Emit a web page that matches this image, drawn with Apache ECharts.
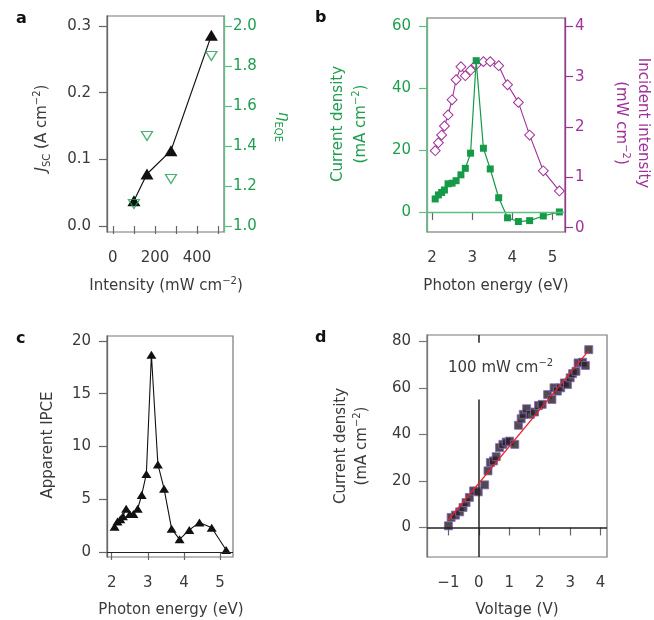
<!DOCTYPE html>
<html>
<head>
<meta charset="utf-8">
<script src="https://cdn.jsdelivr.net/npm/echarts@6/dist/echarts.min.js"></script>
<style>html,body{margin:0;padding:0;background:#fff;}#c{width:654px;height:620px;}</style>
</head>
<body>
<div id="c"></div>
<script>
// ---------- Panel a ----------
const intensityA = [100, 162, 276, 468];
const jscA = [0.038, 0.078, 0.113, 0.286];
const eqeA = [1.11, 1.45, 1.235, 1.85];
const aXTicks = [0, 100, 200, 300, 400, 500];
const aXLabels = [0, 200, 400];
const aYLeftTicks = [0, 0.1, 0.2, 0.3];
const aYRightTicks = [1.0, 1.2, 1.4, 1.6, 1.8, 2.0];

// ---------- Panel b / c (shared photon energies) ----------
const energy = [2.08, 2.16, 2.24, 2.31, 2.40, 2.50, 2.60, 2.72, 2.83, 2.96, 3.10, 3.28, 3.45, 3.66, 3.88, 4.15, 4.43, 4.77, 5.17];
const currentB = [4.2, 5.5, 6.3, 7.1, 9.1, 9.3, 10.1, 12.0, 14.1, 19.0, 48.9, 20.6, 13.9, 4.6, -1.9, -3.1, -2.8, -1.3, 0.0];
const incidentB = [1.53, 1.69, 1.84, 2.02, 2.24, 2.54, 2.94, 3.20, 3.02, 3.13, 3.24, 3.30, 3.30, 3.22, 2.84, 2.49, 1.84, 1.13, 0.73];
const ipceC = [2.4, 2.9, 3.1, 3.4, 4.1, 3.6, 3.6, 4.1, 5.4, 7.4, 18.7, 8.3, 6.0, 2.2, 1.2, 2.1, 2.8, 2.3, 0.2];
const energyTicks = [2, 3, 4, 5];
const bYLeftTicks = [0, 20, 40, 60];
const bYRightTicks = [0, 1, 2, 3, 4];
const cYTicks = [0, 5, 10, 15, 20];

// ---------- Panel d ----------
const voltageD = [-1.0, -0.91, -0.77, -0.63, -0.52, -0.42, -0.31, -0.17, -0.02, 0.19, 0.30, 0.38, 0.48, 0.57, 0.68, 0.79, 0.90, 1.01, 1.18, 1.30, 1.39, 1.46, 1.57, 1.69, 1.83, 1.96, 2.08, 2.26, 2.40, 2.47, 2.58, 2.69, 2.81, 2.91, 3.00, 3.08, 3.19, 3.26, 3.41, 3.50, 3.61];
const currentD = [0.7, 4.3, 5.3, 6.7, 8.6, 10.7, 12.9, 15.7, 15.3, 18.3, 24.3, 27.9, 28.6, 30.4, 34.3, 35.7, 36.7, 37.1, 35.7, 43.9, 46.7, 48.6, 51.0, 48.6, 49.6, 52.4, 52.9, 57.1, 55.0, 60.0, 58.6, 60.0, 62.1, 61.4, 64.3, 66.1, 67.1, 70.7, 71.0, 69.6, 76.4];
const fitV = [-1.0, 3.6];
const fitJ = [3.2, 75.9];
const dXTicks = [-1, 0, 1, 2, 3, 4];
const dYTicks = [0, 20, 40, 60, 80];
const dZeroLineBreak = [55, 79.4]; // vertical zero line interrupted by the label

const zip = (xs, ys) => xs.map((x, i) => [x, ys[i]]);

const FONT = 'DejaVu Sans';
const FS = 15;
const TXT = '#3a3a3a';
const GREEN = '#1f9e50';
const GREEN_AX = '#5fbf82';
const PURPLE = '#a0309a';
const FRAME = '#777';

function xAx(grid, min, max, ticks, labels, fmt) {
  return {
    type: 'value', gridIndex: grid, min: min, max: max,
    axisLine: {show: false},
    splitLine: {show: false},
    axisTick: {show: true, customValues: ticks, length: 8, lineStyle: {color: '#666', width: 1.2}},
    axisLabel: {customValues: labels, margin: 19, fontFamily: FONT, fontSize: FS, color: TXT, formatter: fmt}
  };
}
function yAx(grid, min, max, ticks, pos, color, lineColor, fmt, margin) {
  return {
    type: 'value', gridIndex: grid, min: min, max: max, position: pos,
    axisLine: {show: true, onZero: false, lineStyle: {color: lineColor, width: 1.3}},
    splitLine: {show: false},
    axisTick: {show: true, customValues: ticks, length: 8, lineStyle: {color: lineColor, width: 1.2}},
    axisLabel: {customValues: ticks, margin: margin, fontFamily: FONT, fontSize: FS, color: color, formatter: fmt}
  };
}

const f1 = v => v.toFixed(1);
const f0 = v => String(Math.round(v)).replace('-', '−');

const richBase = {
  n: {fontFamily: FONT, fontSize: FS, lineHeight: 20},
  i: {fontFamily: FONT, fontSize: FS, fontStyle: 'italic', lineHeight: 20},
  sup: {fontFamily: FONT, fontSize: 10, verticalAlign: 'top', lineHeight: 12},
  sub: {fontFamily: FONT, fontSize: 10, verticalAlign: 'bottom', lineHeight: 12}
};
function rt(x, y, text, color, rot, align) {
  const rich = {};
  Object.keys(richBase).forEach(k => { rich[k] = Object.assign({fill: color}, richBase[k]); });
  return {
    type: 'text', x: x, y: y, rotation: rot || 0,
    style: {text: text, rich: rich, fill: color, font: FS + 'px ' + FONT, align: align || 'center', verticalAlign: 'middle'}
  };
}
function letter(x, y, t) {
  return {type: 'text', x: x, y: y, style: {text: t, fill: '#111', font: 'bold 16px ' + FONT, align: 'left', verticalAlign: 'middle'}};
}

const chart = echarts.init(document.getElementById('c'), null, {renderer: 'canvas', width: 654, height: 620});
chart.setOption({
  animation: false,
  backgroundColor: '#fff',
  grid: [
    {left: 107, top: 16, width: 117, height: 216, show: true, borderColor: FRAME, borderWidth: 1.2, backgroundColor: 'transparent'},
    {left: 427, top: 18, width: 138, height: 214, show: true, borderColor: '#666', borderWidth: 1.2, backgroundColor: 'transparent'},
    {left: 107, top: 336, width: 126, height: 221, show: true, borderColor: FRAME, borderWidth: 1.2, backgroundColor: 'transparent'},
    {left: 427, top: 335, width: 180, height: 222, show: true, borderColor: FRAME, borderWidth: 1.2, backgroundColor: 'transparent'}
  ],
  xAxis: [
    xAx(0, -28, 528, aXTicks, aXLabels),
    xAx(1, 1.876, 5.31, energyTicks, energyTicks),
    xAx(2, 1.87, 5.36, energyTicks, energyTicks),
    xAx(3, -1.703, 4.21, dXTicks, dXTicks, f0)
  ],
  yAxis: [
    yAx(0, -0.009, 0.315, aYLeftTicks, 'left', TXT, '#666', f1, 16),
    yAx(0, 0.97, 2.05, aYRightTicks, 'right', GREEN, GREEN_AX, f1, 9),
    yAx(1, -6.48, 62.7, bYLeftTicks, 'left', GREEN, GREEN_AX, f0, 16),
    yAx(1, -0.086, 4.167, bYRightTicks, 'right', PURPLE, PURPLE, f0, 10),
    yAx(2, -0.47, 20.47, cYTicks, 'left', TXT, '#666', f0, 16),
    yAx(3, -12.7, 82.7, dYTicks, 'left', TXT, '#777', f0, 16)
  ],
  series: [
    // a
    {type: 'line', xAxisIndex: 0, yAxisIndex: 0, data: zip(intensityA, jscA), symbol: 'triangle', symbolSize: [13, 11],
     itemStyle: {color: '#111'}, lineStyle: {color: '#111', width: 1.2}, z: 3},
    {type: 'scatter', xAxisIndex: 0, yAxisIndex: 1, data: zip(intensityA, eqeA), symbol: 'triangle', symbolRotate: 180, symbolSize: [11, 9],
     itemStyle: {color: 'rgba(0,0,0,0)', borderColor: GREEN, borderWidth: 1.3}, z: 4},
    // b
    {type: 'line', xAxisIndex: 1, yAxisIndex: 3, data: zip(energy, incidentB), symbol: 'rect', symbolRotate: 45, symbolSize: 7,
     itemStyle: {color: '#fff', borderColor: PURPLE, borderWidth: 1}, lineStyle: {color: PURPLE, width: 1.1}, z: 3},
    {type: 'line', xAxisIndex: 1, yAxisIndex: 2, data: zip(energy, currentB), symbol: 'rect', symbolSize: 7,
     itemStyle: {color: '#159a48'}, lineStyle: {color: '#159a48', width: 1.2}, z: 4,
     markLine: {silent: true, symbol: 'none', label: {show: false}, lineStyle: {color: GREEN_AX, width: 1.3, type: 'solid'}, data: [{yAxis: 0}]}},
    // c
    {type: 'line', xAxisIndex: 2, yAxisIndex: 4, data: zip(energy, ipceC), symbol: 'triangle', symbolSize: [10, 8],
     itemStyle: {color: '#111'}, lineStyle: {color: '#111', width: 1.1}, z: 4,
     markLine: {silent: true, symbol: 'none', label: {show: false}, lineStyle: {color: '#222', width: 1.2, type: 'solid'}, data: [{yAxis: 0}]}},
    // d
    {type: 'scatter', xAxisIndex: 3, yAxisIndex: 5, data: zip(voltageD, currentD), symbol: 'rect', symbolSize: 8,
     itemStyle: {color: '#231f20', borderColor: '#8a63b8', borderWidth: 1}, z: 3,
     markLine: {silent: true, symbol: 'none', label: {show: false}, lineStyle: {color: '#222', width: 1.5, type: 'solid'},
       data: [
         {yAxis: 0},
         [{coord: [0, -12.7]}, {coord: [0, dZeroLineBreak[0]]}],
         [{coord: [0, dZeroLineBreak[1]]}, {coord: [0, 82.7]}]
       ]}},
    {type: 'line', xAxisIndex: 3, yAxisIndex: 5, data: zip(fitV, fitJ), symbol: 'none', lineStyle: {color: '#e8222a', width: 1.2}, z: 5}
  ],
  graphic: [
    letter(16, 19, 'a'), letter(315, 18, 'b'), letter(16, 339, 'c'), letter(315, 338, 'd'),
    rt(42, 128, '{i|J}{sub|SC}{n| (A cm}{sup|−2}{n|)}', TXT, Math.PI / 2),
    rt(283, 127, '{i|η}{sub|EQE}', GREEN, -Math.PI / 2),
    rt(166, 286, '{n|Intensity (mW cm}{sup|−2}{n|)}', TXT, 0),
    rt(338, 124, '{n|Current density}', GREEN, Math.PI / 2),
    rt(361, 124, '{n|(mA cm}{sup|−2}{n|)}', GREEN, Math.PI / 2),
    rt(643, 123, '{n|Incident intensity}', PURPLE, -Math.PI / 2),
    rt(621, 123, '{n|(mW cm}{sup|−2}{n|)}', PURPLE, -Math.PI / 2),
    rt(496, 286, '{n|Photon energy (eV)}', TXT, 0),
    rt(48, 445, '{n|Apparent IPCE}', TXT, Math.PI / 2),
    rt(171, 610, '{n|Photon energy (eV)}', TXT, 0),
    rt(341, 446, '{n|Current density}', TXT, Math.PI / 2),
    rt(362, 446, '{n|(mA cm}{sup|−2}{n|)}', TXT, Math.PI / 2),
    rt(517, 610, '{n|Voltage (V)}', TXT, 0),
    rt(448, 368, '{n|100 mW cm}{sup|−2}', TXT, 0, 'left')
  ]
});
</script>
</body>
</html>
